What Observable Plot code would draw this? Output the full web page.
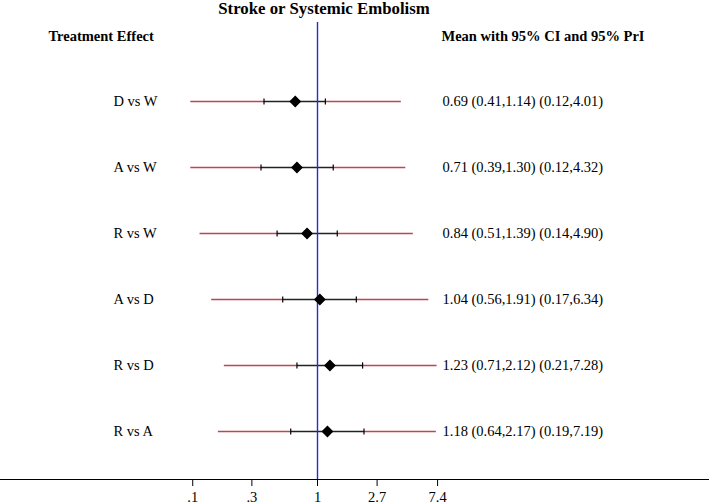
<!DOCTYPE html>
<html>
<head>
<meta charset="utf-8">
<script src="https://cdn.jsdelivr.net/npm/d3@7"></script>
<script src="https://cdn.jsdelivr.net/npm/@observablehq/plot@0.6"></script>
<style>
  body { margin: 0; background: #fff; overflow: hidden; }
  #title { width: 648px; height: 20px; text-align: center; font: bold 16.8px "Liberation Serif", serif; line-height: 18px; color: #000; }
  #chart { height: 484px; line-height: 0; }
</style>
</head>
<body>
<div id="title">Stroke or Systemic Embolism</div>
<div id="chart"></div>
<script>
const comparisons = ["D vs W", "A vs W", "R vs W", "A vs D", "R vs D", "R vs A"];
const means   = [0.69, 0.71, 0.84, 1.04, 1.23, 1.18];
const ciLow   = [0.41, 0.39, 0.51, 0.56, 0.71, 0.64];
const ciHigh  = [1.14, 1.30, 1.39, 1.91, 2.12, 2.17];
const priLow  = [0.12, 0.12, 0.14, 0.17, 0.21, 0.19];
const priHigh = [4.01, 4.32, 4.90, 6.34, 7.28, 7.19];
const tickValues = [0.125, 0.335, 1, 2.7, 7.4];
const tickLabels = [".1", ".3", "1", "2.7", "7.4"];

const f2 = d3.format(".2f");
const rows = comparisons.map((c, i) => ({
  label: c, mean: means[i], lo: ciLow[i], hi: ciHigh[i], plo: priLow[i], phi: priHigh[i],
  text: `${f2(means[i])} (${f2(ciLow[i])},${f2(ciHigh[i])}) (${f2(priLow[i])},${f2(priHigh[i])})`
}));
const caps = rows.flatMap(r => [{label: r.label, x: r.lo}, {label: r.label, x: r.hi}]);
const ticks = tickValues.map((v, i) => ({ v, t: tickLabels[i] }));

const vbar = { draw(ctx, size) { const h = Math.sqrt(size) * 0.5; ctx.moveTo(0, -h); ctx.lineTo(0, h); } };

const serif = "Liberation Serif, Times New Roman, serif";

const chart = Plot.plot({
  width: 709,
  height: 484,
  marginLeft: 0,
  marginRight: 0,
  marginTop: 2,
  marginBottom: 25,
  style: { fontFamily: serif, fontSize: "14px", color: "#000", background: "#fff", overflow: "visible" },
  x: { type: "log", domain: [Math.exp(-317 / 60), Math.exp(392 / 60)], range: [0, 709], axis: null },
  y: { type: "point", domain: comparisons, range: [81, 411], padding: 0, axis: null },
  marks: [
    Plot.frame({ anchor: "bottom", stroke: "#000", strokeWidth: 1.2 }),
    Plot.axisX({ ticks: tickValues, text: null, tickSize: 7, label: null, stroke: "#000" }),
    Plot.text(ticks, { x: "v", text: "t", frameAnchor: "bottom", lineAnchor: "top", dy: 12, fontSize: 14.5, fill: "#000" }),
    Plot.link(rows, { x1: "plo", x2: "lo", y1: "label", y2: "label", stroke: "#bc4556", strokeWidth: 1.4 }),
    Plot.link(rows, { x1: "hi", x2: "phi", y1: "label", y2: "label", stroke: "#bc4556", strokeWidth: 1.4 }),
    Plot.link(rows, { x1: "lo", x2: "hi", y1: "label", y2: "label", stroke: "#222", strokeWidth: 1.4 }),
    Plot.dot(caps, { x: "x", y: "label", symbol: vbar, r: 3.5, stroke: "#000", strokeWidth: 1.2, fill: "none" }),
    Plot.ruleX([1], { stroke: "#2a2ad0", strokeWidth: 1.4 }),
    Plot.dot(rows, { x: "mean", y: "label", symbol: "diamond2", r: 4.4, fill: "#000", stroke: "#000" }),
    Plot.text(rows, { y: "label", text: "label", frameAnchor: "left", dx: 113, textAnchor: "start", fontSize: 14.5, fill: "#000" }),
    Plot.text(rows, { y: "label", text: "text", frameAnchor: "left", dx: 442, textAnchor: "start", fontSize: 14.5, fill: "#000" }),
    Plot.text(["Treatment Effect"], { frameAnchor: "top-left", dx: 48, dy: 8, textAnchor: "start", fontWeight: "bold", fontSize: 14.5, fill: "#000" }),
    Plot.text(["Mean with 95% CI and 95% PrI"], { frameAnchor: "top-left", dx: 441, dy: 8, textAnchor: "start", fontWeight: "bold", fontSize: 14.5, fill: "#000" })
  ]
});
document.getElementById("chart").appendChild(chart);
</script>
</body>
</html>
